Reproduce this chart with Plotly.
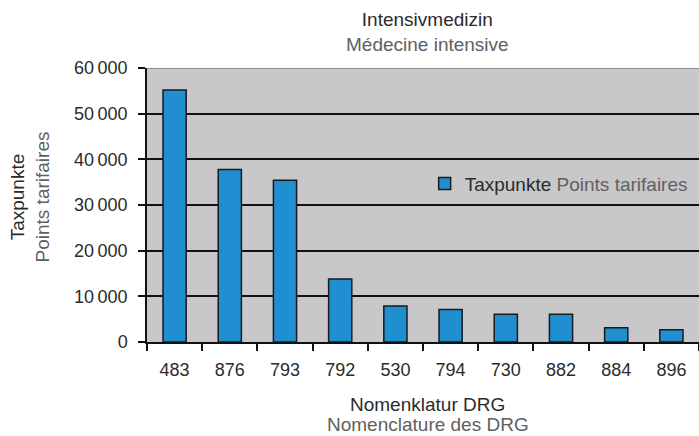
import plotly.graph_objects as go

categories = ["483", "876", "793", "792", "530", "794", "730", "882", "884", "896"]
values = [55200, 37800, 35400, 13800, 7900, 7100, 6100, 6100, 3100, 2700]
y_ticks = [0, 10000, 20000, 30000, 40000, 50000, 60000]

FONT = "Liberation Sans"
DARK = "#2b2b2b"
GREY = "#606060"

fig = go.Figure()
fig.add_trace(go.Bar(
    x=categories, y=values,
    name="Taxpunkte <span style='color:%s'>Points tarifaires</span>" % GREY,
    marker=dict(color="#1f8fd2", line=dict(color="#1a1a1a", width=1.5)),
    showlegend=True,
))

# top border of the plot area is a lighter grey line in the reference
fig.add_shape(type="line", xref="paper", yref="y", x0=0, x1=1,
              y0=y_ticks[-1], y1=y_ticks[-1],
              line=dict(color="#8c8c8c", width=2), layer="above")

fig.update_layout(
    width=699, height=436,
    margin=dict(l=147, r=0, t=68, b=94),
    paper_bgcolor="white",
    plot_bgcolor="#c8c8ca",
    bargap=0.58,
    separators=".\u2009",
    font=dict(family=FONT, size=19, color=DARK),
    showlegend=True,
    legend=dict(x=0.503, y=0.578, xanchor="left", yanchor="middle",
                bgcolor="rgba(0,0,0,0)", font=dict(size=19, color=DARK)),
    xaxis=dict(
        type="category", range=[-0.5, 9.5],
        showline=True, linecolor="#111", linewidth=1.5,
        ticks="outside", tickson="boundaries", ticklen=7, tickwidth=1.5, tickcolor="#111",
        showgrid=False, ticklabelstandoff=11,
        tickfont=dict(size=18, color=DARK),
    ),
    yaxis=dict(
        range=[0, 60000], tickvals=y_ticks, tickformat=",d",
        showline=True, linecolor="#111", linewidth=1.5,
        ticks="outside", ticklen=7, tickwidth=1.5, tickcolor="#111",
        showgrid=True, gridcolor="#111", gridwidth=1.5,
        zeroline=False, ticklabelstandoff=7,
        tickfont=dict(size=18, color=DARK),
    ),
    annotations=[
        dict(text="Intensivmedizin<br><span style='color:%s'>Médecine intensive</span>" % GREY,
             xref="paper", yref="paper", x=0.509, y=1.131, xanchor="center", yanchor="middle",
             showarrow=False, font=dict(size=19, color=DARK)),
        dict(text="Nomenklatur DRG",
             xref="paper", yref="paper", x=0.509, y=-0.228, xanchor="center", yanchor="middle",
             showarrow=False, borderpad=0, font=dict(size=19, color=DARK)),
        dict(text="Nomenclature des DRG",
             xref="paper", yref="paper", x=0.509, y=-0.301, xanchor="center", yanchor="middle",
             showarrow=False, borderpad=0, font=dict(size=19, color=GREY)),
        dict(text="Taxpunkte<br><span style='color:%s'>Points tarifaires</span>" % GREY,
             xref="paper", yref="paper", x=-0.212, y=0.531, xanchor="center", yanchor="middle",
             textangle=-90, showarrow=False, font=dict(size=19, color=DARK)),
    ],
)

fig.write_html(
    "out.html",
    config={"displayModeBar": False},
    post_script="document.body.style.margin='0';document.body.style.overflow='hidden';",
)
